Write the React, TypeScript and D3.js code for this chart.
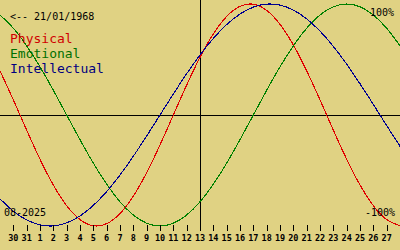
import React from "react";
import * as d3 from "d3";

// Day offsets relative to the marked day (13), one sample per day
const dayOffsets = [-15,-14,-13,-12,-11,-10,-9,-8,-7,-6,-5,-4,-3,-2,-1,0,1,2,3,4,5,6,7,8,9,10,11,12,13,14,15];
const physical = [0.3984,0.1362,-0.1362,-0.3984,-0.6311,-0.8170,-0.9423,-0.9977,-0.9791,-0.8879,-0.7308,-0.5196,-0.2698,0,0.2698,0.5196,0.7308,0.8879,0.9791,0.9977,0.9423,0.8170,0.6311,0.3984,0.1362,-0.1362,-0.3984,-0.6311,-0.8170,-0.9423,-0.9977];
const emotional = [0.9010,0.7818,0.6235,0.4339,0.2225,0,-0.2225,-0.4339,-0.6235,-0.7818,-0.9010,-0.9749,-1,-0.9749,-0.9010,-0.7818,-0.6235,-0.4339,-0.2225,0,0.2225,0.4339,0.6235,0.7818,0.9010,0.9749,1,0.9749,0.9010,0.7818,0.6235];
const intellectual = [-0.7557,-0.8660,-0.9450,-0.9898,-0.9989,-0.9718,-0.9096,-0.8146,-0.6901,-0.5406,-0.3717,-0.1893,0,0.1893,0.3717,0.5406,0.6901,0.8146,0.9096,0.9718,0.9989,0.9898,0.9450,0.8660,0.7557,0.6182,0.4582,0.2817,0.0951,-0.0951,-0.2817];

const tickOffsets = [-14,-13,-12,-11,-10,-9,-8,-7,-6,-5,-4,-3,-2,-1,0,1,2,3,4,5,6,7,8,9,10,11,12,13,14];
const tickLabels = ["30","31","1","2","3","4","5","6","7","8","9","10","11","12","13","14","15","16","17","18","19","20","21","22","23","24","25","26","27"];

const seriesNames = ["Physical", "Emotional", "Intellectual"];
const seriesColors = ["#e00000", "#008000", "#000090"];
const textColors = ["#d00000", "#007000", "#000080"];

const birthLabel = "<-- 21/01/1968";
const monthLabel = "08-2025";
const topLabel = "100%";
const bottomLabel = "-100%";

export default function App() {
  const W = 400, H = 250;
  const x = d3.scaleLinear().domain([-15, 15]).range([0, 400]);
  const y = d3.scaleLinear().domain([-1, 1]).range([226, 4]);
  const series = [physical, emotional, intellectual];
  const line = d3
    .line<number>()
    .x((_, i) => x(dayOffsets[i]))
    .y((d) => y(d))
    .curve(d3.curveNatural);
  const mono = "'DejaVu Sans Mono', 'Liberation Mono', monospace";
  return (
    <svg
      width={W}
      height={H}
      style={{ position: "absolute", left: 0, top: 0, display: "block" }}
    >
      <rect x={0} y={0} width={W} height={H} fill="#e0d283" />
      <line x1={0} x2={W} y1={115.5} y2={115.5} stroke="#000" strokeWidth={1} shapeRendering="crispEdges" />
      <line x1={200.5} x2={200.5} y1={0} y2={231} stroke="#000" strokeWidth={1} shapeRendering="crispEdges" />
      {series.map((s, i) => (
        <path key={i} d={line(s) || ""} fill="none" stroke={seriesColors[i]} strokeWidth={1.1} shapeRendering="crispEdges" />
      ))}
      {tickOffsets.map((t, i) => (
        <g key={i}>
          <line x1={Math.round(x(t)) + 0.5} x2={Math.round(x(t)) + 0.5} y1={225} y2={231} stroke="#000" strokeWidth={1} shapeRendering="crispEdges" />
          <text x={x(t)} y={241} textAnchor="middle" fontFamily={mono} fontSize={8.5} fontWeight="bold" fill="#000">
            {tickLabels[i]}
          </text>
        </g>
      ))}
      <text x={10} y={20} fontFamily={mono} fontSize={10} fill="#000">{birthLabel}</text>
      {seriesNames.map((n, i) => (
        <text key={n} x={10} y={43 + i * 15} fontFamily={mono} fontSize={13} fill={textColors[i]}>
          {n}
        </text>
      ))}
      <text x={394} y={16} textAnchor="end" fontFamily={mono} fontSize={10} fill="#000">{topLabel}</text>
      <text x={395} y={216} textAnchor="end" fontFamily={mono} fontSize={10} fill="#000">{bottomLabel}</text>
      <text x={4} y={216} fontFamily={mono} fontSize={10} fill="#000">{monthLabel}</text>
    </svg>
  );
}
